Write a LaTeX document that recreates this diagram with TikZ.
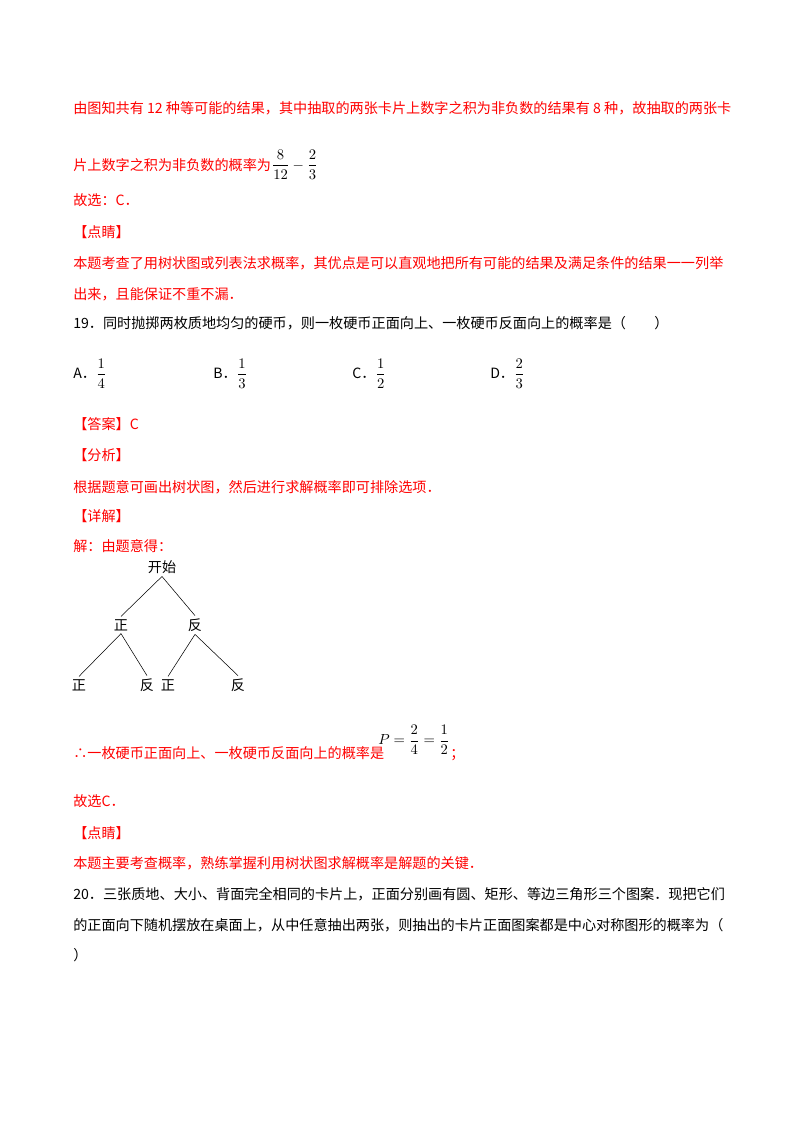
\documentclass[tikz,border=0pt]{standalone}
\usepackage{fontspec}
\setmainfont{Noto Sans CJK SC}
\begin{document}
\begin{tikzpicture}[x=0.75pt,y=-0.75pt,
  t/.style={anchor=base west,inner sep=0pt,font=\fontsize{10.6}{13}\selectfont},
  r/.style={t,text=red},
  tr/.style={inner sep=2pt,font=\fontsize{10.6}{13}\selectfont}]
\useasboundingbox (0,0) rectangle (800,1132);
\node[r] (l1) at (73,113) {由图知共有 12 种等可能的结果，其中抽取的两张卡片上数字之积为非负数的结果有 8 种，故抽取的两张卡};
\node[r] (l2) at (73,170) {片上数字之积为非负数的概率为};
\node[t,anchor=west] (f1) at (l2.base east) [yshift=4pt] {$\displaystyle\frac{8}{12}-\frac{2}{3}$};
\node[r] (l3) at (73,205) {故选：C．};
\node[r] (l4) at (73,237) {【点睛】};
\node[r] (l5) at (73,268) {本题考查了用树状图或列表法求概率，其优点是可以直观地把所有可能的结果及满足条件的结果一一列举};
\node[r] (l6) at (73,299) {出来，且能保证不重不漏．};
\node[t] (q19) at (73,328) {19．同时抛掷两枚质地均匀的硬币，则一枚硬币正面向上、一枚硬币反面向上的概率是（\qquad）};
\node[t] (oa) at (73,378) {A．$\displaystyle\frac{1}{4}$};
\node[t] (ob) at (213,378) {B．$\displaystyle\frac{1}{3}$};
\node[t] (oc) at (352,378) {C．$\displaystyle\frac{1}{2}$};
\node[t] (od) at (490,378) {D．$\displaystyle\frac{2}{3}$};
\node[r] (l7) at (73,429) {【答案】C};
\node[r] (l8) at (73,460) {【分析】};
\node[r] (l9) at (73,492) {根据题意可画出树状图，然后进行求解概率即可排除选项．};
\node[r] (l10) at (73,521) {【详解】};
\node[r] (l11) at (73,551) {解：由题意得：};
\node[tr] (s) at (162,567) {开始};
\node[tr] (a) at (121,625) {正};
\node[tr] (b) at (195,625) {反};
\node[tr] (c) at (79,685) {正};
\node[tr] (d) at (147,685) {反};
\node[tr] (e) at (168,685) {正};
\node[tr] (f) at (238,685) {反};
\draw[thin] (s.south) -- (a.north);
\draw[thin] (s.south) -- (b.north);
\draw[thin] (a.south) -- (c.north);
\draw[thin] (a.south) -- (d.north);
\draw[thin] (b.south) -- (e.north);
\draw[thin] (b.south) -- (f.north);
\node[r] (l12) at (73,758) {∴一枚硬币正面向上、一枚硬币反面向上的概率是};
\node[t,anchor=west] (f2) at (378,740) {$\displaystyle P=\frac{2}{4}=\frac{1}{2}$};
\node[r] (sc) at (450,758) {；};
\node[r] (l13) at (73,806) {故选C．};
\node[r] (l14) at (73,838) {【点睛】};
\node[r] (l15) at (73,868) {本题主要考查概率，熟练掌握利用树状图求解概率是解题的关键．};
\node[t] (q20) at (73,899) {20．三张质地、大小、背面完全相同的卡片上，正面分别画有圆、矩形、等边三角形三个图案．现把它们};
\node[t] (q20b) at (73,930) {的正面向下随机摆放在桌面上，从中任意抽出两张，则抽出的卡片正面图案都是中心对称图形的概率为（};
\node[t] (q20c) at (73,960) {）};
\end{tikzpicture}
\end{document}
